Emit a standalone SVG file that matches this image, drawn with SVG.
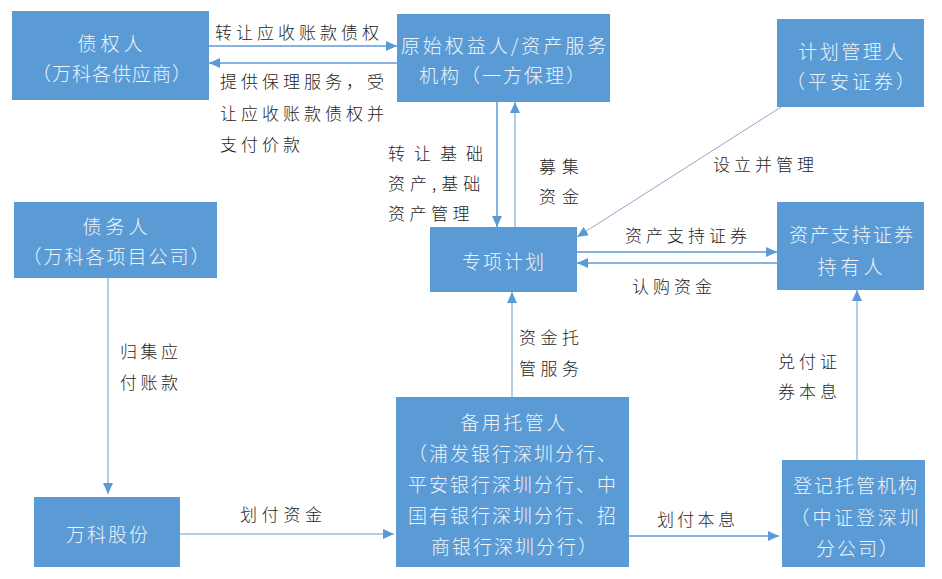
<svg xmlns="http://www.w3.org/2000/svg" width="942" height="579" viewBox="0 0 942 579">
<defs>
<style>
.box{fill:#5B9BD5;}
.bt{font-family:"Noto Sans CJK SC","Noto Sans",sans-serif;font-size:19px;font-weight:300;fill:#EEF4FA;text-anchor:middle;dominant-baseline:central;letter-spacing:2.5px;}
.lb{font-family:"Noto Sans CJK SC","Noto Sans",sans-serif;font-size:17px;font-weight:300;fill:#1E1E1E;dominant-baseline:central;letter-spacing:4px;}
.ln{fill:none;stroke:#5B9BD5;stroke-width:1.5;}
.lt{fill:none;stroke:#9FBCD8;stroke-width:1.5;}
.dg{fill:none;stroke:#8FA9C6;stroke-width:1;}
</style>
<marker id="ah" markerUnits="userSpaceOnUse" markerWidth="11" markerHeight="10" refX="11" refY="5" orient="auto">
<path d="M0,0 L11,5 L0,10 z" fill="#5B9BD5"/>
</marker>
</defs>
<rect width="942" height="579" fill="#FFFFFF"/>

<g id="connectors">
<line class="ln" x1="209" y1="46" x2="397" y2="46" marker-end="url(#ah)"/>
<line class="ln" x1="397" y1="63" x2="209" y2="63" marker-end="url(#ah)"/>
<line class="ln" x1="497" y1="102" x2="497" y2="227" marker-end="url(#ah)"/>
<line class="lt" x1="515" y1="227" x2="515" y2="102" marker-end="url(#ah)"/>
<line class="dg" x1="781" y1="107" x2="577" y2="237" marker-end="url(#ah)"/>
<line class="ln" x1="577" y1="252" x2="777" y2="252" marker-end="url(#ah)"/>
<line class="ln" x1="777" y1="263" x2="577" y2="263" marker-end="url(#ah)"/>
<line class="lt" x1="108" y1="278" x2="108" y2="494" marker-end="url(#ah)"/>
<line class="lt" x1="180" y1="534" x2="394" y2="534" marker-end="url(#ah)"/>
<line class="lt" x1="512" y1="397" x2="512" y2="292" marker-end="url(#ah)"/>
<line class="ln" x1="629" y1="536" x2="779" y2="536" marker-end="url(#ah)"/>
<line class="lt" x1="857" y1="460" x2="857" y2="290" marker-end="url(#ah)"/>

<text class="lb" x="215" y="31">转让应收账款债权</text>
<text class="lb" x="220" y="80">提供保理服务，受</text>
<text class="lb" x="220" y="112">让应收账款债权并</text>
<text class="lb" x="220" y="143">支付价款</text>
<text class="lb" x="388" y="152" style="letter-spacing:9px">转让基础</text>
<text class="lb" x="388" y="182" style="letter-spacing:5px">资产,基础</text>
<text class="lb" x="388" y="212" style="letter-spacing:4.5px">资产管理</text>
<text class="lb" x="539" y="165" style="letter-spacing:6px">募集</text>
<text class="lb" x="539" y="195" style="letter-spacing:6px">资金</text>
<text class="lb" x="713" y="163">设立并管理</text>
<text class="lb" x="625" y="234">资产支持证券</text>
<text class="lb" x="632" y="285">认购资金</text>
<text class="lb" x="120" y="350" style="letter-spacing:3.5px">归集应</text>
<text class="lb" x="120" y="381" style="letter-spacing:3.5px">付账款</text>
<text class="lb" x="519" y="336" style="letter-spacing:4.5px">资金托</text>
<text class="lb" x="519" y="367" style="letter-spacing:4.5px">管服务</text>
<text class="lb" x="240" y="513" style="letter-spacing:4.7px">划付资金</text>
<text class="lb" x="657" y="518" style="letter-spacing:3.3px">划付本息</text>
<text class="lb" x="778" y="360">兑付证</text>
<text class="lb" x="778" y="390">券本息</text>
</g>

<g id="creditor">
<rect class="box" x="12" y="11" width="197" height="89"/>
<text class="bt" x="112" y="42" style="letter-spacing:4px">债权人</text>
<text class="bt" x="112" y="72" style="letter-spacing:1px">（万科各供应商）</text>
</g>

<g id="originator">
<rect class="box" x="397" y="14" width="213" height="88"/>
<text class="bt" x="505" y="44" style="letter-spacing:3px">原始权益人/资产服务</text>
<text class="bt" x="503" y="74" style="letter-spacing:2px">机构（一方保理）</text>
</g>

<g id="manager">
<rect class="box" x="777" y="19" width="147" height="88"/>
<text class="bt" x="852" y="50" style="letter-spacing:2.5px">计划管理人</text>
<text class="bt" x="852" y="80" style="letter-spacing:3px">（平安证券）</text>
</g>

<g id="debtor">
<rect class="box" x="14" y="202" width="203" height="76"/>
<text class="bt" x="117" y="225" style="letter-spacing:4px">债务人</text>
<text class="bt" x="117" y="255" style="letter-spacing:2px">（万科各项目公司）</text>
</g>

<g id="plan">
<rect class="box" x="430" y="227" width="147" height="65"/>
<text class="bt" x="504" y="260" style="letter-spacing:2px">专项计划</text>
</g>

<g id="holders">
<rect class="box" x="777" y="202" width="147" height="88"/>
<text class="bt" x="852" y="233" style="letter-spacing:2px">资产支持证券</text>
<text class="bt" x="852" y="265" style="letter-spacing:4px">持有人</text>
</g>

<g id="vanke">
<rect class="box" x="34" y="497" width="146" height="70"/>
<text class="bt" x="108" y="533" style="letter-spacing:2px">万科股份</text>
</g>

<g id="custodian">
<rect class="box" x="396" y="397" width="233" height="170"/>
<text class="bt" x="514" y="421" style="letter-spacing:2.5px">备用托管人</text>
<text class="bt" x="513" y="452" style="letter-spacing:2px">（浦发银行深圳分行、</text>
<text class="bt" x="513" y="483" style="letter-spacing:2px">平安银行深圳分行、中</text>
<text class="bt" x="513" y="514" style="letter-spacing:2px">国有银行深圳分行、招</text>
<text class="bt" x="515" y="545" style="letter-spacing:2px">商银行深圳分行）</text>
</g>

<g id="registrar">
<rect class="box" x="782" y="460" width="143" height="107"/>
<text class="bt" x="856" y="484" style="letter-spacing:2px">登记托管机构</text>
<text class="bt" x="856" y="516" style="letter-spacing:2.8px">（中证登深圳</text>
<text class="bt" x="858" y="547" style="letter-spacing:2px">分公司）</text>
</g>
</svg>
